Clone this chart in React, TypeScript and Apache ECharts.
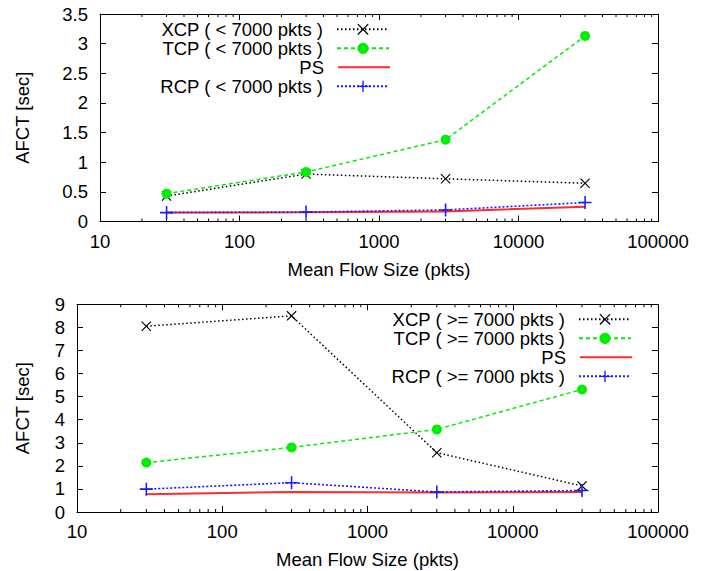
import React, { useEffect, useRef } from 'react';
import * as echarts from 'echarts';

// ---- data ----
const flowSizes = [30, 300, 3000, 30000];

// top panel: flows < 7000 pkts
const xcpSmall = [0.43, 0.8, 0.72, 0.645];
const tcpSmall = [0.47, 0.835, 1.38, 3.13];
const psSmall = [0.15, 0.155, 0.17, 0.25];
const rcpSmall = [0.15, 0.16, 0.195, 0.32];

// bottom panel: flows >= 7000 pkts
const xcpLarge = [8.05, 8.5, 2.57, 1.13];
const tcpLarge = [2.14, 2.8, 3.58, 5.31];
const psLarge = [0.77, 0.87, 0.85, 0.87];
const rcpLarge = [0.99, 1.27, 0.87, 0.93];

const namesSmall = ['XCP ( < 7000 pkts )', 'TCP ( < 7000 pkts )', 'PS', 'RCP ( < 7000 pkts )'];
const namesLarge = ['XCP ( >= 7000 pkts )', 'TCP ( >= 7000 pkts )', 'PS', 'RCP ( >= 7000 pkts )'];

const xMin = 10;
const xMax = 100000;
const yMaxTop = 3.5;
const yIntervalTop = 0.5;
const yMaxBottom = 9;
const yIntervalBottom = 1;
const xMinorTicks = [
  20, 30, 40, 50, 60, 70, 80, 90,
  200, 300, 400, 500, 600, 700, 800, 900,
  2000, 3000, 4000, 5000, 6000, 7000, 8000, 9000,
  20000, 30000, 40000, 50000, 60000, 70000, 80000, 90000,
];

const FONT = '"Liberation Sans", Arial, Helvetica, sans-serif';
const FS = 18.5;
const xLabel = 'Mean Flow Size (pkts)';
const yLabel = 'AFCT [sec]';

const X_SYMBOL =
  'path://M-10,-8.4L-8.4,-10L0,-1.6L8.4,-10L10,-8.4L1.6,0L10,8.4L8.4,10L0,1.6L-8.4,10L-10,8.4L-1.6,0Z';
const PLUS_SYMBOL =
  'path://M-1.2,-10L1.2,-10L1.2,-1.2L10,-1.2L10,1.2L1.2,1.2L1.2,10L-1.2,10L-1.2,1.2L-10,1.2L-10,-1.2L-1.2,-1.2Z';
const PS_ICON =
  'path://M0,0L52,0L52,0.01Z M0,6L52,6L52,8L0,8Z M0,14L52,14L52,14.01Z';

const BLACK = '#000000';
const GREEN = '#00ee00';
const RED = '#ff2b2b';
const BLUE = '#1a1aff';

function pairs(values: number[]) {
  return flowSizes.map((x, i) => [x, values[i]]);
}

function xAxesFor(gridIndex: number, nameGap: number) {
  const common = {
    type: 'log',
    logBase: 10,
    gridIndex,
    min: xMin,
    max: xMax,
    splitLine: { show: false },
    axisLine: { show: true, onZero: false, lineStyle: { color: BLACK, width: 1 } },
    axisTick: { show: true, inside: true, length: 6, lineStyle: { color: BLACK, width: 1 } },
  };
  return [
    {
      ...common,
      position: 'bottom',
      axisLabel: {
        show: true,
        color: BLACK,
        fontSize: FS,
        fontFamily: FONT,
        margin: 10,
        formatter: (v: number) => String(Math.round(v)),
      },
      name: xLabel,
      nameLocation: 'middle',
      nameGap,
      nameTextStyle: { color: BLACK, fontSize: FS, fontFamily: FONT },
    },
    {
      ...common,
      position: 'top',
      axisLabel: { show: false },
    },
  ];
}

function yAxesFor(gridIndex: number, max: number, interval: number, nameGap: number) {
  const common = {
    type: 'value',
    gridIndex,
    min: 0,
    max,
    interval,
    splitLine: { show: false },
    axisLine: { show: true, onZero: false, lineStyle: { color: BLACK, width: 1 } },
    axisTick: { show: true, inside: true, length: 6, lineStyle: { color: BLACK, width: 1 } },
  };
  return [
    {
      ...common,
      position: 'left',
      axisLabel: { show: true, color: BLACK, fontSize: FS, fontFamily: FONT, margin: 12 },
      name: yLabel,
      nameLocation: 'middle',
      nameRotate: 90,
      nameGap,
      nameTextStyle: { color: BLACK, fontSize: FS, fontFamily: FONT },
    },
    {
      ...common,
      position: 'right',
      axisLabel: { show: false },
    },
  ];
}

function panelSeries(
  axisIndex: number,
  names: string[],
  xcp: number[],
  tcp: number[],
  ps: number[],
  rcp: number[],
  yMax: number
) {
  const base = { type: 'line', xAxisIndex: axisIndex, yAxisIndex: axisIndex, showSymbol: true };
  return [
    {
      ...base,
      name: names[0],
      data: pairs(xcp),
      symbol: X_SYMBOL,
      symbolSize: 10,
      itemStyle: { color: BLACK },
      lineStyle: { color: BLACK, width: 1.5, type: [1.5, 2.5] },
    },
    {
      ...base,
      name: names[1],
      data: pairs(tcp),
      symbol: 'circle',
      symbolSize: 10,
      itemStyle: { color: GREEN },
      lineStyle: { color: GREEN, width: 1.5, type: [4, 3] },
    },
    {
      ...base,
      name: names[2],
      data: pairs(ps),
      symbol: 'none',
      itemStyle: { color: RED },
      lineStyle: { color: RED, width: 2, type: 'solid' },
    },
    {
      ...base,
      name: names[3],
      data: pairs(rcp),
      symbol: PLUS_SYMBOL,
      symbolSize: 13,
      itemStyle: { color: BLUE },
      lineStyle: { color: BLUE, width: 1.6, type: [2, 2] },
    },
    {
      type: 'custom',
      xAxisIndex: axisIndex,
      yAxisIndex: axisIndex,
      silent: true,
      clip: false,
      z: 5,
      data: xMinorTicks.map((v) => [v, 0]),
      renderItem: (_params: any, api: any) => {
        const x = api.value(0);
        const p0 = api.coord([x, 0]);
        const p1 = api.coord([x, yMax]);
        return {
          type: 'group',
          children: [
            {
              type: 'line',
              shape: { x1: p0[0], y1: p0[1], x2: p0[0], y2: p0[1] - 3 },
              style: { stroke: BLACK, lineWidth: 1 },
            },
            {
              type: 'line',
              shape: { x1: p1[0], y1: p1[1], x2: p1[0], y2: p1[1] + 3 },
              style: { stroke: BLACK, lineWidth: 1 },
            },
          ],
        };
      },
    },
  ];
}

function legendsFor(names: string[], right: number, centers: number[]) {
  return names.map((name, i) => ({
    show: true,
    data: [name === 'PS' ? { name, icon: PS_ICON } : { name }],
    right,
    top: centers[i] - 9.5,
    orient: 'horizontal',
    align: 'right',
    padding: 0,
    itemGap: 0,
    itemWidth: 52,
    itemHeight: 14,
    selectedMode: false,
    textStyle: { color: BLACK, fontSize: FS, fontFamily: FONT, padding: [0, 9, 0, 0] },
  }));
}

export default function App() {
  const ref = useRef<HTMLDivElement>(null);

  useEffect(() => {
    if (!ref.current) return;
    const chart = echarts.init(ref.current, undefined, { renderer: 'svg' });
    const option: any = {
      animation: false,
      backgroundColor: '#ffffff',
      textStyle: { fontFamily: FONT },
      grid: [
        { left: 100, right: 44, top: 14, height: 207.5, containLabel: false },
        { left: 77, right: 44, top: 304.3, height: 207.7, containLabel: false },
      ],
      xAxis: [...xAxesFor(0, 38.5), ...xAxesFor(1, 38)],
      yAxis: [
        ...yAxesFor(0, yMaxTop, yIntervalTop, 68),
        ...yAxesFor(1, yMaxBottom, yIntervalBottom, 45),
      ],
      legend: [
        ...legendsFor(namesSmall, 312, [29.3, 48.3, 67.3, 86.3]),
        ...legendsFor(namesLarge, 70, [319.3, 338.3, 357.3, 376.3]),
      ],
      series: [
        ...panelSeries(0, namesSmall, xcpSmall, tcpSmall, psSmall, rcpSmall, yMaxTop),
        ...panelSeries(2, namesLarge, xcpLarge, tcpLarge, psLarge, rcpLarge, yMaxBottom),
      ],
    };
    chart.setOption(option);
    return () => chart.dispose();
  }, []);

  return (
    <div
      ref={ref}
      style={{ position: 'fixed', left: 0, top: 0, width: 702, height: 571, background: '#fff' }}
    />
  );
}
